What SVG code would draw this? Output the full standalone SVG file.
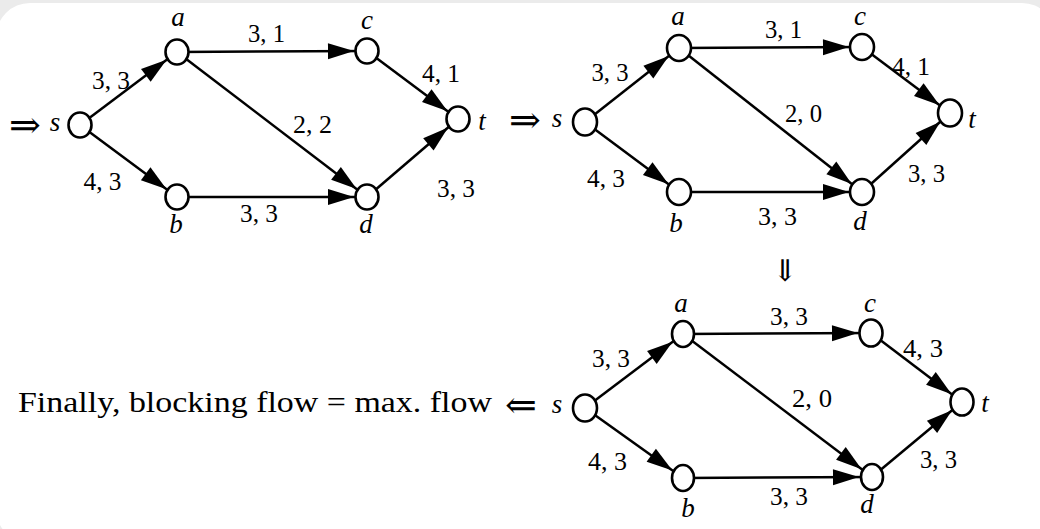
<svg xmlns="http://www.w3.org/2000/svg" width="1040" height="529" viewBox="0 0 1040 529">
<style>
.edge{stroke:#000;stroke-width:2.5;fill:none;marker-end:url(#ah)}
.node{fill:#fff;stroke:#000;stroke-width:2.6}
.el{font-family:"Liberation Serif","Times New Roman",serif;font-size:26px;fill:#000;text-anchor:middle}
.nl{font-family:"Liberation Serif","Times New Roman",serif;font-size:27px;font-style:italic;fill:#000;text-anchor:middle}
.ar{font-family:"DejaVu Serif","DejaVu Sans",serif;font-size:38px;fill:#000;text-anchor:middle}
.cap{font-family:"Liberation Serif","Times New Roman",serif;font-size:30px;fill:#000}
</style>
<defs>
<marker id="ah" markerUnits="userSpaceOnUse" markerWidth="42" markerHeight="16" refX="39" refY="8" orient="auto" overflow="visible">
<path d="M0,0 L26,8 L0,16 Z" fill="#000"/>
</marker>
</defs>
<rect x="0" y="0" width="1040" height="529" fill="#ebebeb"/>
<rect x="-4" y="3" width="1060" height="540" rx="34" fill="#fff"/>

<g id="connectors">
<!-- graph 1 -->
<line class="edge" x1="80" y1="125" x2="177" y2="52"/>
<line class="edge" x1="80" y1="125" x2="177" y2="197"/>
<line class="edge" x1="177" y1="52" x2="367" y2="51"/>
<line class="edge" x1="177" y1="52" x2="367" y2="197"/>
<line class="edge" x1="177" y1="197" x2="367" y2="197"/>
<line class="edge" x1="367" y1="51" x2="458" y2="119"/>
<line class="edge" x1="367" y1="197" x2="458" y2="119"/>
<!-- graph 2 -->
<line class="edge" x1="585" y1="122" x2="679" y2="48"/>
<line class="edge" x1="585" y1="122" x2="679" y2="192"/>
<line class="edge" x1="679" y1="48" x2="862" y2="47"/>
<line class="edge" x1="679" y1="48" x2="862" y2="192"/>
<line class="edge" x1="679" y1="192" x2="862" y2="192"/>
<line class="edge" x1="862" y1="47" x2="950" y2="113"/>
<line class="edge" x1="862" y1="192" x2="950" y2="113"/>
<!-- graph 3 -->
<line class="edge" x1="585" y1="408" x2="683" y2="334"/>
<line class="edge" x1="585" y1="408" x2="683" y2="478"/>
<line class="edge" x1="683" y1="334" x2="871" y2="333"/>
<line class="edge" x1="683" y1="334" x2="872" y2="477"/>
<line class="edge" x1="683" y1="478" x2="872" y2="477"/>
<line class="edge" x1="871" y1="333" x2="962" y2="402"/>
<line class="edge" x1="872" y1="477" x2="962" y2="402"/>

<!-- edge labels graph 1 -->
<text class="el" x="111" y="89" textLength="38" lengthAdjust="spacingAndGlyphs">3, 3</text>
<text class="el" x="102.5" y="190" textLength="38" lengthAdjust="spacingAndGlyphs">4, 3</text>
<text class="el" x="266.5" y="42" textLength="37" lengthAdjust="spacingAndGlyphs">3, 1</text>
<text class="el" x="312.5" y="133" textLength="39" lengthAdjust="spacingAndGlyphs">2, 2</text>
<text class="el" x="441" y="82" textLength="38" lengthAdjust="spacingAndGlyphs">4, 1</text>
<text class="el" x="456" y="197" textLength="38" lengthAdjust="spacingAndGlyphs">3, 3</text>
<text class="el" x="259" y="222" textLength="38" lengthAdjust="spacingAndGlyphs">3, 3</text>
<!-- edge labels graph 2 -->
<text class="el" x="610" y="81" textLength="37" lengthAdjust="spacingAndGlyphs">3, 3</text>
<text class="el" x="606" y="187" textLength="38" lengthAdjust="spacingAndGlyphs">4, 3</text>
<text class="el" x="783.5" y="38" textLength="37" lengthAdjust="spacingAndGlyphs">3, 1</text>
<text class="el" x="803.5" y="122" textLength="37" lengthAdjust="spacingAndGlyphs">2, 0</text>
<text class="el" x="911" y="75" textLength="38" lengthAdjust="spacingAndGlyphs">4, 1</text>
<text class="el" x="926.5" y="182" textLength="37" lengthAdjust="spacingAndGlyphs">3, 3</text>
<text class="el" x="777.5" y="225" textLength="39" lengthAdjust="spacingAndGlyphs">3, 3</text>
<!-- edge labels graph 3 -->
<text class="el" x="611" y="367" textLength="38" lengthAdjust="spacingAndGlyphs">3, 3</text>
<text class="el" x="607.5" y="470" textLength="39" lengthAdjust="spacingAndGlyphs">4, 3</text>
<text class="el" x="789" y="325" textLength="38" lengthAdjust="spacingAndGlyphs">3, 3</text>
<text class="el" x="812" y="407" textLength="40" lengthAdjust="spacingAndGlyphs">2, 0</text>
<text class="el" x="923" y="357" textLength="40" lengthAdjust="spacingAndGlyphs">4, 3</text>
<text class="el" x="938.5" y="468" textLength="37" lengthAdjust="spacingAndGlyphs">3, 3</text>
<text class="el" x="789" y="505" textLength="38" lengthAdjust="spacingAndGlyphs">3, 3</text>
</g>

<!-- graph 1 nodes -->
<g id="g1-s"><ellipse class="node" cx="80" cy="125" rx="11.5" ry="12.5"/><text class="nl" x="55" y="131">s</text></g>
<g id="g1-a"><ellipse class="node" cx="177" cy="52" rx="11.5" ry="12.5"/><text class="nl" x="178" y="26">a</text></g>
<g id="g1-b"><ellipse class="node" cx="177" cy="197" rx="11.5" ry="12.5"/><text class="nl" x="176" y="233">b</text></g>
<g id="g1-c"><ellipse class="node" cx="367" cy="51" rx="11.5" ry="12.5"/><text class="nl" x="367" y="29">c</text></g>
<g id="g1-d"><ellipse class="node" cx="367" cy="197" rx="11.5" ry="12.5"/><text class="nl" x="366" y="233">d</text></g>
<g id="g1-t"><ellipse class="node" cx="458" cy="119" rx="11.5" ry="12.5"/><text class="nl" x="482" y="130">t</text></g>

<!-- graph 2 nodes -->
<g id="g2-s"><ellipse class="node" cx="585" cy="122" rx="12" ry="13.5"/><text class="nl" x="557" y="127">s</text></g>
<g id="g2-a"><ellipse class="node" cx="679" cy="48" rx="12" ry="13"/><text class="nl" x="678" y="25">a</text></g>
<g id="g2-b"><ellipse class="node" cx="679" cy="192" rx="12" ry="13"/><text class="nl" x="676" y="232">b</text></g>
<g id="g2-c"><ellipse class="node" cx="862" cy="47" rx="12" ry="13"/><text class="nl" x="860" y="25">c</text></g>
<g id="g2-d"><ellipse class="node" cx="862" cy="192" rx="12" ry="13"/><text class="nl" x="860" y="230">d</text></g>
<g id="g2-t"><ellipse class="node" cx="950" cy="113" rx="12" ry="13.5"/><text class="nl" x="972" y="128">t</text></g>

<!-- graph 3 nodes -->
<g id="g3-s"><ellipse class="node" cx="585" cy="408" rx="12" ry="13.5"/><text class="nl" x="557" y="413">s</text></g>
<g id="g3-a"><ellipse class="node" cx="683" cy="334" rx="11" ry="13"/><text class="nl" x="681" y="312">a</text></g>
<g id="g3-b"><ellipse class="node" cx="683" cy="478" rx="11" ry="13"/><text class="nl" x="688" y="517">b</text></g>
<g id="g3-c"><ellipse class="node" cx="871" cy="333" rx="11.5" ry="13.5"/><text class="nl" x="870" y="312">c</text></g>
<g id="g3-d"><ellipse class="node" cx="872" cy="477" rx="11" ry="13"/><text class="nl" x="867" y="513">d</text></g>
<g id="g3-t"><ellipse class="node" cx="962" cy="402" rx="11.5" ry="13.5"/><text class="nl" x="985" y="412">t</text></g>

<!-- transition arrows and caption -->
<g id="arrows">
<text class="ar" x="25" y="138">⇒</text>
<text class="ar" x="525" y="133">⇒</text>
<text class="ar" x="785" y="281" style="font-size:30px">⇓</text>
<text class="ar" x="521" y="418">⇐</text>
</g>
<text id="caption" class="cap" x="18" y="412" textLength="474" lengthAdjust="spacingAndGlyphs">Finally, blocking flow = max. flow</text>
</svg>
